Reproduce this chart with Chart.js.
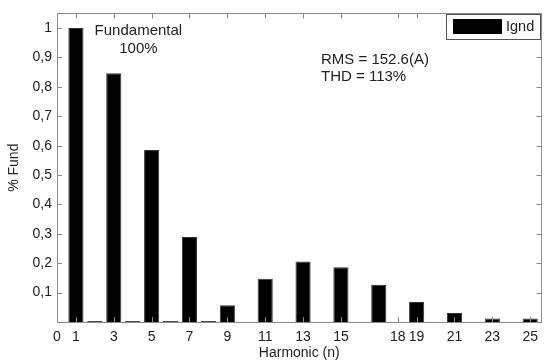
<!DOCTYPE html>
<html>
<head>
<meta charset="utf-8">
<script src="https://cdn.jsdelivr.net/npm/chart.js@4/dist/chart.umd.min.js"></script>
<style>
	html, body { margin: 0; padding: 0; background: #fff; }
	#wrap { position: relative; width: 545px; height: 361px; }
</style>
</head>
<body>
<div id="wrap"><canvas id="harmChart" width="545" height="361"></canvas></div>
<script>
// harmonic spectrum of Ignd, relative to the fundamental
var harmonics = [1, 2, 3, 4, 5, 6, 7, 8, 9, 10, 11, 12, 13, 14, 15, 16, 17, 18, 19, 20, 21, 22, 23, 24, 25];
var fundPct = [1.0, 0.003, 0.846, 0.003, 0.585, 0.003, 0.289, 0.003, 0.057, 0, 0.147, 0, 0.206, 0,
	0.186, 0, 0.127, 0, 0.068, 0, 0.031, 0, 0.012, 0, 0.012];
var xTickVals = [0, 1, 3, 5, 7, 9, 11, 13, 15, 18, 19, 21, 23, 25];
var yTickVals = [0.1, 0.2, 0.3, 0.4, 0.5, 0.6, 0.7, 0.8, 0.9, 1];
var notes = ["Fundamental", "100%", "RMS = 152.6(A)", "THD = 113%"];
var seriesName = "Ignd";

var fontFam = "'Liberation Sans', Arial, sans-serif";
var textCol = '#222';

// box around the axes with inward ticks on every side, plus the text notes and legend
var framePlugin = {
	id: 'frame',
	afterDraw: function (chart) {
		var ctx = chart.ctx;
		var a = chart.chartArea;
		var xs = chart.scales.x, ys = chart.scales.y;
		var tl = 5;
		ctx.save();
		ctx.strokeStyle = '#8a8a8a';
		ctx.lineWidth = 1;
		ctx.strokeRect(Math.round(a.left) + 0.5, Math.round(a.top) + 0.5,
			Math.round(a.right - a.left) - 1, Math.round(a.bottom - a.top));
		ctx.beginPath();
		xTickVals.forEach(function (v) {
			var px = Math.round(xs.getPixelForValue(v)) + 0.5;
			ctx.moveTo(px, a.bottom); ctx.lineTo(px, a.bottom - tl);
			ctx.moveTo(px, a.top); ctx.lineTo(px, a.top + tl);
		});
		yTickVals.forEach(function (v) {
			var py = Math.round(ys.getPixelForValue(v)) + 0.5;
			ctx.moveTo(a.left, py); ctx.lineTo(a.left + tl, py);
			ctx.moveTo(a.right, py); ctx.lineTo(a.right - tl, py);
		});
		ctx.stroke();

		// annotations
		ctx.fillStyle = textCol;
		ctx.font = '15px ' + fontFam;
		ctx.textBaseline = 'middle';
		ctx.textAlign = 'center';
		ctx.fillText(notes[0], xs.getPixelForValue(4.3), 31);
		ctx.fillText(notes[1], xs.getPixelForValue(4.3), 49);
		ctx.textAlign = 'left';
		ctx.fillText(notes[2], 321, 60);
		ctx.fillText(notes[3], 321, 77);

		// legend box
		ctx.fillStyle = '#fff';
		ctx.fillRect(446, 14, 94, 25);
		ctx.strokeStyle = '#555';
		ctx.strokeRect(446.5, 14.5, 94, 25);
		ctx.fillStyle = '#000';
		ctx.fillRect(453, 19, 49, 15);
		ctx.fillStyle = textCol;
		ctx.font = '14.5px ' + fontFam;
		ctx.fillText(seriesName, 506, 27);
		ctx.restore();
	}
};

var barData = harmonics.map(function (h, i) { return { x: h, y: fundPct[i] }; });

new Chart(document.getElementById('harmChart').getContext('2d'), {
	type: 'bar',
	data: {
		datasets: [{
			label: seriesName,
			data: barData,
			backgroundColor: '#000',
			borderColor: '#333',
			borderWidth: 1,
			barPercentage: 0.8,
			categoryPercentage: 1.0
		}]
	},
	options: {
		responsive: false,
		animation: false,
		layout: { padding: { top: 9, right: 1, left: 0, bottom: 0 } },
		plugins: { legend: { display: false }, tooltip: { enabled: false } },
		scales: {
			x: {
				type: 'linear',
				offset: false,
				min: 0,
				max: 25.6,
				grid: { display: false, drawTicks: false, tickLength: 0 },
				border: { display: false },
				afterBuildTicks: function (scale) {
					scale.ticks = xTickVals.map(function (v) { return { value: v }; });
				},
				afterFit: function (scale) { scale.height = 39; },
				ticks: {
					autoSkip: false,
					maxRotation: 0,
					padding: 7,
					color: textCol,
					font: { family: fontFam, size: 14 },
					callback: function (v) { return String(v); }
				},
				title: {
					display: true,
					text: 'Harmonic (n)',
					color: textCol,
					font: { family: fontFam, size: 14 },
					padding: { top: 0, bottom: -1 }
				}
			},
			y: {
				min: 0,
				max: 1.05,
				grid: { display: false, drawTicks: false, tickLength: 0 },
				border: { display: false },
				afterBuildTicks: function (scale) {
					scale.ticks = yTickVals.map(function (v) { return { value: v }; });
				},
				afterFit: function (scale) { scale.width = 57; },
				ticks: {
					padding: 5,
					color: textCol,
					font: { family: fontFam, size: 14 },
					callback: function (v) {
						var r = Math.round(v * 10) / 10;
						return String(r).replace('.', ',');
					}
				},
				title: {
					display: true,
					text: '% Fund',
					color: textCol,
					font: { family: fontFam, size: 14 },
					padding: { top: 6, bottom: 0 }
				}
			}
		}
	},
	plugins: [framePlugin]
});
</script>
</body>
</html>
